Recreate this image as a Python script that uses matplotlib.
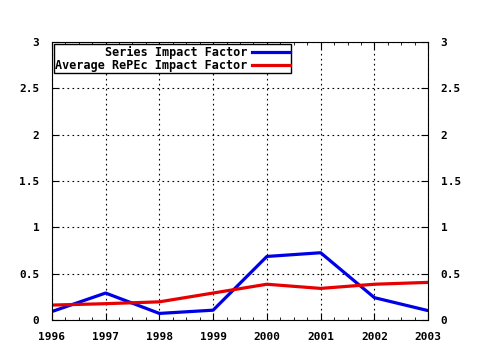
import numpy as np
import matplotlib.pyplot as plt
from matplotlib.ticker import MultipleLocator, FuncFormatter

years = [1996, 1997, 1998, 1999, 2000, 2001, 2002, 2003]
series_if = [0.09, 0.29, 0.07, 0.105, 0.685, 0.725, 0.24, 0.10]
repec_if = [0.16, 0.175, 0.195, 0.29, 0.385, 0.34, 0.385, 0.405]

plt.rcParams['font.family'] = 'DejaVu Sans Mono'
plt.rcParams['font.weight'] = 'bold'
plt.rcParams['font.size'] = 8

fig = plt.figure(figsize=(4.8, 3.5), dpi=100)
ax = fig.add_axes([0.108, 0.086, 0.784, 0.794])

ax.plot(years, series_if, color='#0000e6', linewidth=2.3, label='Series Impact Factor')
ax.plot(years, repec_if, color='#e60000', linewidth=2.3, label='Average RePEc Impact Factor')

ax.set_xlim(1996, 2003)
ax.set_ylim(0, 3)
ax.xaxis.set_major_locator(MultipleLocator(1))
ax.xaxis.set_minor_locator(MultipleLocator(0.25))
ax.yaxis.set_major_locator(MultipleLocator(0.5))
ax.yaxis.set_major_formatter(FuncFormatter(lambda v, p: '%g' % v))
ax.tick_params(which='both', direction='in', top=True, right=True,
               labelright=True)
ax.tick_params(axis='x', pad=9)
ax.tick_params(axis='y', pad=9)
ax.tick_params(which='major', length=5)
ax.tick_params(which='minor', length=2.5)
ax.grid(True, which='major', linestyle=(0, (1.5, 3)), color='black', linewidth=0.8)

leg = ax.legend(loc='upper left', markerfirst=False, fancybox=False,
                edgecolor='black', framealpha=1, borderpad=0.1,
                labelspacing=0.0, handlelength=3.2, handletextpad=0.4,
                borderaxespad=0.2, prop={'size': 8.5, 'weight': 'bold'})
for t in leg.get_texts():
    t.set_ha('right')
leg.get_frame().set_linewidth(1.0)

fig.savefig('out.png', dpi=100)
